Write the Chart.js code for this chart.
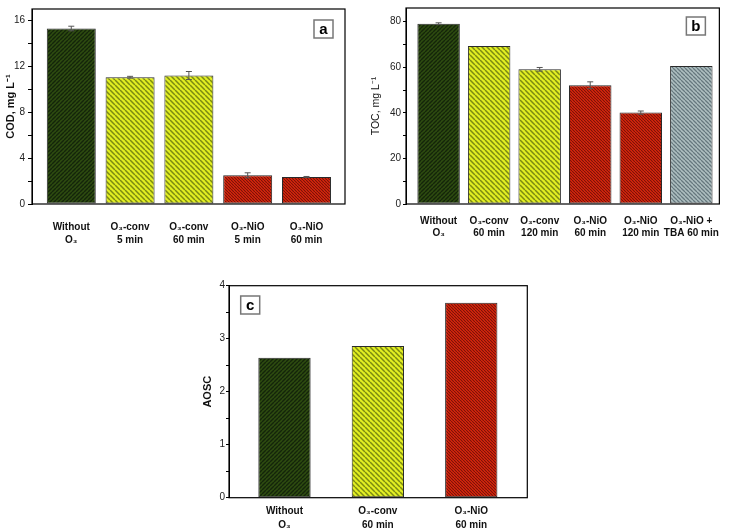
<!DOCTYPE html>
<html>
<head>
<meta charset="utf-8">
<script src="https://cdn.jsdelivr.net/npm/chart.js@4"></script>
<style>
  body { margin: 0; background: #fff; }
  #wrap { position: relative; width: 730px; height: 531px; }
  canvas { position: absolute; }
</style>
</head>
<body>
<div id="wrap">
  <canvas id="chartA" style="left:0;top:0"></canvas>
  <canvas id="chartB" style="left:365px;top:0"></canvas>
  <canvas id="chartC" style="left:190px;top:262px"></canvas>
</div>
<script>
// panel a - COD
const codLabels = [["Without", "O₃"], ["O₃-conv", "5 min"], ["O₃-conv", "60 min"], ["O₃-NiO", "5 min"], ["O₃-NiO", "60 min"]];
const codValues = [15.3, 11.05, 11.2, 2.5, 2.35];
const codErrors = [0.2, 0.08, 0.35, 0.22, 0.05];
const codFills = ["green", "yellow", "yellow", "red", "red"];

// panel b - TOC
const tocLabels = [["Without", "O₃"], ["O₃-conv", "60 min"], ["O₃-conv", "120 min"], ["O₃-NiO", "60 min"], ["O₃-NiO", "120 min"], ["O₃-NiO +", "TBA 60 min"]];
const tocValues = [79.1, 69.3, 59.1, 52.1, 40.1, 60.6];
const tocErrors = [0.4, 0, 0.8, 1.5, 0.7, 0];
const tocFills = ["green", "yellow", "yellow", "red", "red", "gray"];

// panel c - AOSC
const aoscLabels = [["Without", "O₃"], ["O₃-conv", "60 min"], ["O₃-NiO", "60 min"]];
const aoscValues = [2.64, 2.86, 3.68];
const aoscFills = ["green", "yellow", "red"];

function makeHatch(bg, line, size, dir, width) {
  const c = document.createElement("canvas");
  c.width = size;
  c.height = size;
  const g = c.getContext("2d");
  g.fillStyle = bg;
  g.fillRect(0, 0, size, size);
  g.strokeStyle = line;
  g.lineWidth = width;
  g.beginPath();
  for (let k = -1; k <= 1; k++) {
    if (dir === "/") {
      g.moveTo(k * size, size);
      g.lineTo(k * size + size, 0);
    } else {
      g.moveTo(k * size, 0);
      g.lineTo(k * size + size, size);
    }
  }
  g.stroke();
  return g.createPattern(c, "repeat");
}

const hatches = {
  green: makeHatch("#2e4c10", "#14250a", 4, "/", 1.4),
  yellow: makeHatch("#e2ee22", "#7c8a12", 5, "\\", 1.5),
  red: makeHatch("#e42a0e", "#7a1208", 3, "\\", 1.2),
  gray: makeHatch("#aebfc0", "#66787e", 4, "\\", 1.3),
};

const framePlugin = {
  id: "frame",
  afterDatasetsDraw(chart) {
    const { ctx, chartArea } = chart;
    const ds = chart.data.datasets[0];
    const meta = chart.getDatasetMeta(0);
    const yScale = chart.scales.y;
    ctx.save();
    // error bars
    if (ds.errors) {
      ctx.strokeStyle = "#555";
      ctx.lineWidth = 1;
      meta.data.forEach((bar, i) => {
        const err = ds.errors[i];
        if (!err) return;
        const v = ds.data[i].y;
        const top = yScale.getPixelForValue(v + err);
        const bot = yScale.getPixelForValue(v - err);
        ctx.beginPath();
        ctx.moveTo(bar.x, top);
        ctx.lineTo(bar.x, bot);
        ctx.moveTo(bar.x - 3, top);
        ctx.lineTo(bar.x + 3, top);
        ctx.moveTo(bar.x - 3, bot);
        ctx.lineTo(bar.x + 3, bot);
        ctx.stroke();
      });
    }
    // frame
    ctx.strokeStyle = "#000";
    ctx.lineWidth = 1.2;
    ctx.strokeRect(chartArea.left, chartArea.top, chartArea.right - chartArea.left, chartArea.bottom - chartArea.top);
    // panel tag
    const tag = chart.options.plugins.frame;
    const x = tag.side === "left" ? chartArea.left + tag.dx : chartArea.right - tag.dx;
    const y = chartArea.top + tag.dy;
    ctx.fillStyle = "#fff";
    ctx.fillRect(x, y, 19, 18);
    ctx.strokeStyle = "#777";
    ctx.lineWidth = 1.5;
    ctx.strokeRect(x, y, 19, 18);
    ctx.fillStyle = "#000";
    ctx.font = "bold 15px 'Liberation Sans', Arial, sans-serif";
    ctx.textAlign = "center";
    ctx.textBaseline = "middle";
    ctx.fillText(tag.text, x + 9.5, y + 9.5);
    ctx.restore();
  },
};

function buildPanel(id, cfg) {
  const canvas = document.getElementById(id);
  canvas.style.width = cfg.width + "px";
  canvas.style.height = cfg.height + "px";
  canvas.width = cfg.width;
  canvas.height = cfg.height;

  return new Chart(canvas, {
    type: "bar",
    data: {
      datasets: [
        {
          data: cfg.values.map((v, i) => ({ x: i, y: v })),
          errors: cfg.errors,
          backgroundColor: cfg.fills.map((f) => hatches[f]),
          borderColor: "#2a2a2a",
          borderWidth: 1,
          borderSkipped: false,
          barPercentage: cfg.barPct,
          categoryPercentage: 1,
        },
      ],
    },
    options: {
      responsive: false,
      animation: false,
      layout: { padding: cfg.padding },
      plugins: {
        legend: { display: false },
        tooltip: { enabled: false },
        frame: cfg.tag,
      },
      scales: {
        x: {
          type: "linear",
          offset: false,
          min: cfg.xMin,
          max: cfg.xMax,
          grid: { display: false, drawTicks: false, offset: false },
          border: { display: false },
          afterBuildTicks: (axis) => {
            axis.ticks = cfg.labels.map((_, i) => ({ value: i }));
          },
          afterFit: (s) => {
            s.height = cfg.xHeight;
          },
          ticks: {
            autoSkip: false,
            maxRotation: 0,
            padding: cfg.xPad,
            color: "#111",
            font: { family: "'Liberation Sans', Arial, sans-serif", size: 10, weight: "bold", lineHeight: cfg.xLine },
            callback: (v) => cfg.labels[v],
          },
        },
        y: {
          min: 0,
          max: cfg.yMax,
          afterFit: (s) => {
            s.width = cfg.yWidth;
          },
          grid: { drawOnChartArea: false, drawTicks: true, tickLength: cfg.tickLen, color: "#000" },
          border: { display: true, color: "#000", width: 1 },
          ticks: {
            stepSize: cfg.minorStep,
            includeBounds: false,
            padding: cfg.tickPad,
            color: "#222",
            font: { family: "'Liberation Sans', Arial, sans-serif", size: 10 },
            callback: (v) => (Math.abs(v / cfg.majorStep - Math.round(v / cfg.majorStep)) < 1e-6 ? v : ""),
          },
          title: {
            display: true,
            text: cfg.yTitle,
            color: "#111",
            padding: { top: cfg.titlePad, bottom: 0 },
            font: { family: "'Liberation Sans', Arial, sans-serif", size: cfg.titleSize, weight: cfg.titleWeight },
          },
        },
      },
    },
    plugins: [framePlugin],
  });
}

buildPanel("chartA", {
  width: 365, height: 250,
  labels: codLabels, values: codValues, errors: codErrors, fills: codFills,
  padding: { left: 0, right: 20, top: 4, bottom: 0 },
  xMin: -0.668, xMax: 4.655, barPct: 0.833,
  xHeight: 46, xPad: 17, xLine: 1.3,
  yMax: 17, minorStep: 2, majorStep: 4, yWidth: 32, tickLen: 4, tickPad: 3,
  yTitle: "COD, mg L⁻¹", titleSize: 11, titleWeight: "bold", titlePad: 4,
  tag: { text: "a", side: "right", dx: 31, dy: 11 },
});

buildPanel("chartB", {
  width: 365, height: 250,
  labels: tocLabels, values: tocValues, errors: tocErrors, fills: tocFills,
  padding: { left: 0, right: 2, top: 4, bottom: 0 },
  xMin: -0.645, xMax: 5.555, barPct: 0.84,
  xHeight: 46, xPad: 11, xLine: 1.2,
  yMax: 86, minorStep: 10, majorStep: 20, yWidth: 41, tickLen: 3, tickPad: 2,
  yTitle: "TOC, mg L⁻¹", titleSize: 10.5, titleWeight: "normal", titlePad: 4.5,
  tag: { text: "b", side: "right", dx: 33, dy: 9 },
});

buildPanel("chartC", {
  width: 360, height: 269,
  labels: aoscLabels, values: aoscValues, errors: null, fills: aoscFills,
  padding: { left: 0, right: 22.7, top: 23.7, bottom: 0 },
  xMin: -0.594, xMax: 2.6, barPct: 0.56,
  xHeight: 33.3, xPad: 7, xLine: 1.4,
  yMax: 4, minorStep: 0.5, majorStep: 1, yWidth: 39, tickLen: 3, tickPad: 1,
  yTitle: "AOSC", titleSize: 11, titleWeight: "bold", titlePad: 11,
  tag: { text: "c", side: "left", dx: 11.7, dy: 10.3 },
});
</script>
</body>
</html>
